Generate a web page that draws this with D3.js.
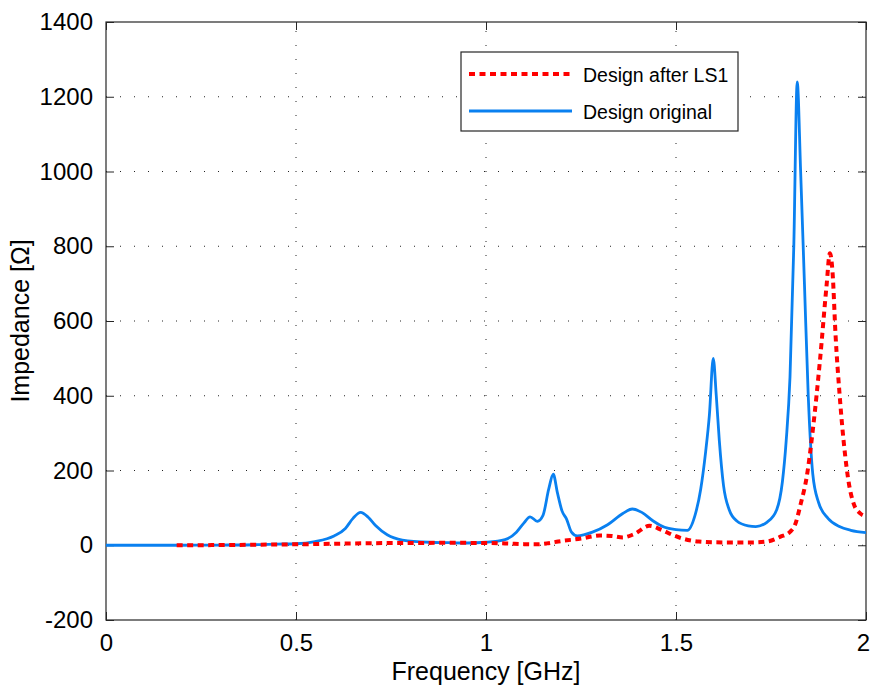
<!DOCTYPE html>
<html>
<head>
<meta charset="utf-8">
<script src="https://cdn.jsdelivr.net/npm/d3@7"></script>
<style>
  body { margin: 0; background: #fff; }
  text { font-family: "Liberation Sans", Arial, sans-serif; fill: #000; }
</style>
</head>
<body>
<svg width="870" height="687"></svg>
<script>
// Impedance vs frequency, two designs
const xTicks = [0, 0.5, 1, 1.5, 2];
const xTickLabels = ["0", "0.5", "1", "1.5", "2"];
const yTicks = [-200, 0, 200, 400, 600, 800, 1000, 1200, 1400];

const seriesNames = ["Design after LS1", "Design original"];

// Design original (GHz, ohm)
const origFreq = [0, 0.1, 0.2, 0.3, 0.4, 0.45, 0.5, 0.55, 0.6, 0.63, 0.65, 0.67, 0.69, 0.71, 0.74, 0.78,
  0.85, 0.9, 0.95, 1.0, 1.05, 1.08, 1.1, 1.116, 1.135, 1.15, 1.165, 1.177, 1.188, 1.2, 1.212, 1.225,
  1.24, 1.28, 1.32, 1.36, 1.385, 1.41, 1.44, 1.47, 1.5, 1.53, 1.55, 1.565, 1.578, 1.588, 1.598, 1.606,
  1.614, 1.625, 1.64, 1.66, 1.69, 1.71, 1.74, 1.765, 1.78, 1.79, 1.8, 1.81, 1.819, 1.828, 1.838,
  1.848, 1.86, 1.875, 1.9, 1.93, 1.96, 2.0];
const origZ = [0, 0, 0, 0.5, 1.5, 3, 4, 10, 25, 45, 72, 88, 75, 52, 28, 14,
  8, 7, 6, 8, 15, 35, 60, 76, 64, 80, 150, 190, 140, 92, 70, 35,
  25, 35, 55, 85, 97, 88, 65, 48, 42, 40, 80, 150, 250, 350, 500, 400,
  280, 160, 95, 65, 52, 50, 62, 95, 170, 280, 450, 800, 1240, 1000, 700,
  400, 190, 115, 72, 50, 40, 34];

// Design after LS1
const lsFreq = [0.186, 0.3, 0.4, 0.5, 0.6, 0.7, 0.8, 0.9, 1.0, 1.05, 1.1, 1.13, 1.16, 1.19, 1.25, 1.3,
  1.33, 1.36, 1.39, 1.43, 1.46, 1.49, 1.52, 1.56, 1.6, 1.65, 1.7, 1.74, 1.775, 1.8, 1.813, 1.828,
  1.844, 1.861, 1.879, 1.896, 1.905, 1.912, 1.92, 1.93, 1.942, 1.955, 1.968, 1.984, 2.0];
const lsZ = [0, 0.5, 1.5, 2.5, 4, 5.5, 6, 6.5, 6, 5, 3, 2.5, 5, 10, 18, 26,
  25, 21, 30, 52, 42, 28, 17, 10, 8, 7.5, 7.5, 10, 23, 36, 54, 110,
  183, 317, 496, 692, 781, 730, 560, 410, 270, 165, 110, 86, 78];

const svg = d3.select("svg");
const m = { left: 106, right: 866, top: 22, bottom: 620 };

const x = d3.scaleLinear().domain([0, 2]).range([m.left, m.right]);
const y = d3.scaleLinear().domain([-200, 1400]).range([m.bottom, m.top]);

// grid
const grid = svg.append("g")
  .attr("stroke", "#222")
  .attr("stroke-width", 1)
  .attr("stroke-dasharray", "1,13");
grid.selectAll(".gx")
  .data(xTicks.slice(1, -1))
  .enter().append("line")
  .attr("x1", d => x(d)).attr("x2", d => x(d))
  .attr("y1", m.bottom).attr("y2", m.top);
grid.selectAll(".gy")
  .data(yTicks.slice(1, -1))
  .enter().append("line")
  .attr("x1", m.left).attr("x2", m.right)
  .attr("y1", d => y(d)).attr("y2", d => y(d));

// axes, ticks pointing inward
const fmtX = (d, i) => xTickLabels[i];
svg.append("g")
  .attr("transform", `translate(0,${m.bottom})`)
  .call(d3.axisBottom(x).tickValues(xTicks).tickFormat(fmtX).tickSize(-8).tickPadding(14))
  .call(g => g.selectAll("text").style("font-size", "24px").attr("fill", "#000"))
  .call(g => g.selectAll(".tick:last-of-type text").attr("dx", "-3"));
svg.append("g")
  .attr("transform", `translate(0,${m.top})`)
  .call(d3.axisTop(x).tickValues(xTicks).tickFormat("").tickSize(-8));
svg.append("g")
  .attr("transform", `translate(${m.left},0)`)
  .call(d3.axisLeft(y).tickValues(yTicks).tickFormat(d => String(d)).tickSize(-8).tickPadding(13))
  .call(g => g.selectAll("text").style("font-size", "24px").attr("fill", "#000"));
svg.append("g")
  .attr("transform", `translate(${m.right},0)`)
  .call(d3.axisRight(y).tickValues(yTicks).tickFormat("").tickSize(-8));

svg.selectAll(".domain").remove();
svg.selectAll(".tick line").attr("stroke", "#262626");

svg.append("rect")
  .attr("x", m.left).attr("y", m.top)
  .attr("width", m.right - m.left).attr("height", m.bottom - m.top)
  .attr("fill", "none").attr("stroke", "#262626").attr("stroke-width", 1.2);

// curves
svg.append("clipPath").attr("id", "clip")
  .append("rect").attr("x", m.left).attr("y", m.top)
  .attr("width", m.right - m.left).attr("height", m.bottom - m.top);

const line = d3.line()
  .x(d => x(d[0]))
  .y(d => y(d[1]))
  .curve(d3.curveMonotoneX);

svg.append("path")
  .datum(d3.zip(origFreq, origZ))
  .attr("clip-path", "url(#clip)")
  .attr("fill", "none")
  .attr("stroke", "#0a80f0")
  .attr("stroke-width", 2.8)
  .attr("stroke-linejoin", "round")
  .attr("d", line);

svg.append("path")
  .datum(d3.zip(lsFreq, lsZ))
  .attr("clip-path", "url(#clip)")
  .attr("fill", "none")
  .attr("stroke", "#ff0000")
  .attr("stroke-width", 4)
  .attr("stroke-dasharray", "6,4.5")
  .attr("d", line);

// axis labels
svg.append("text")
  .attr("x", (m.left + m.right) / 2).attr("y", 680)
  .attr("text-anchor", "middle")
  .style("font-size", "25px")
  .text("Frequency [GHz]");

svg.append("text")
  .attr("transform", "translate(29,321) rotate(-90)")
  .attr("text-anchor", "middle")
  .style("font-size", "25px")
  .text("Impedance [Ω]");

// legend
const legend = svg.append("g");
legend.append("rect")
  .attr("x", 461).attr("y", 52).attr("width", 277).attr("height", 79)
  .attr("fill", "#fff").attr("stroke", "#262626").attr("stroke-width", 1.2);

const legendStyles = [
  { color: "#ff0000", width: 4, dash: "6,4.5" },
  { color: "#0a80f0", width: 2.8, dash: null }
];
const item = legend.selectAll(".item")
  .data(seriesNames)
  .enter().append("g")
  .attr("transform", (d, i) => `translate(0,${74 + i * 37})`);
item.append("line")
  .attr("x1", 469).attr("x2", 572)
  .attr("stroke", (d, i) => legendStyles[i].color)
  .attr("stroke-width", (d, i) => legendStyles[i].width)
  .attr("stroke-dasharray", (d, i) => legendStyles[i].dash);
item.append("text")
  .attr("x", 583).attr("y", 7.5)
  .style("font-size", "19.5px")
  .text(d => d);
</script>
</body>
</html>
